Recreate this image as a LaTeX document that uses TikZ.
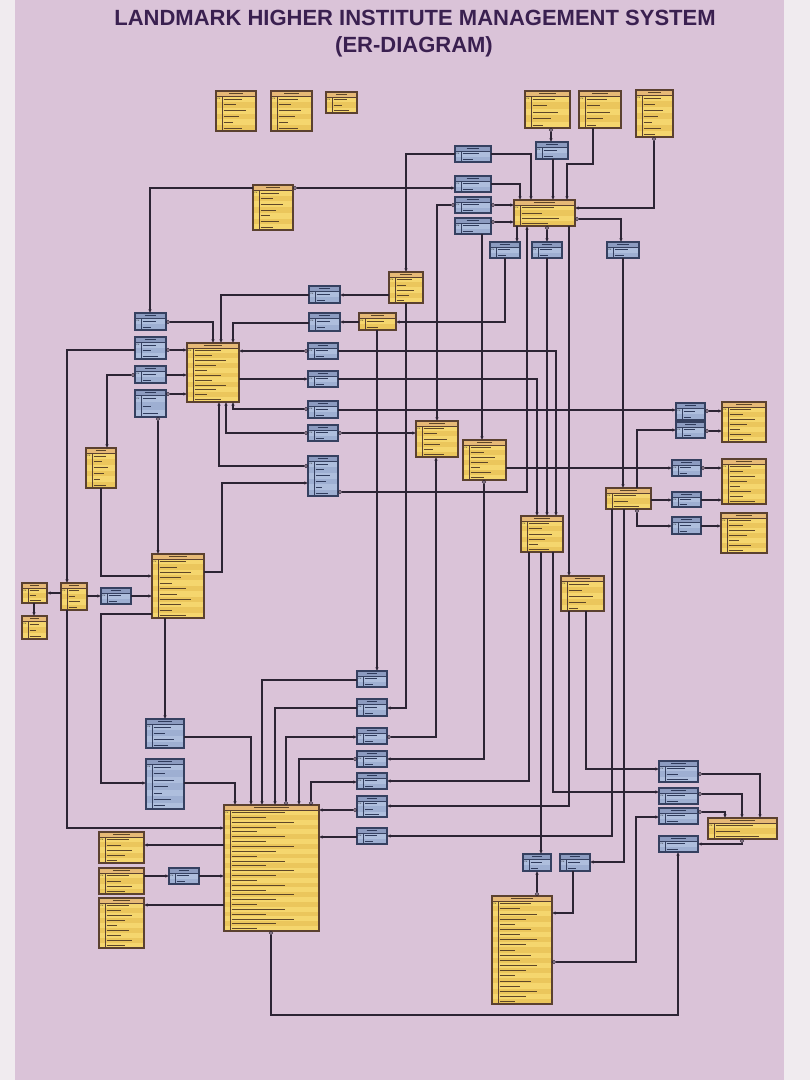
\documentclass[tikz,border=0pt]{standalone}
\usepackage{fontspec}
\setmainfont{Liberation Sans}
\usetikzlibrary{arrows.meta,calc}
\definecolor{poster}{HTML}{DAC3D8}
\definecolor{outer}{HTML}{F0EBEF}
\definecolor{ttl}{HTML}{3A2050}
\definecolor{yfill}{HTML}{F5D66E}
\definecolor{ystripe}{HTML}{EBC65C}
\definecolor{yhead}{HTML}{E6B976}
\definecolor{yborder}{HTML}{5B4130}
\definecolor{ytext}{HTML}{5E4628}
\definecolor{bfill}{HTML}{AEBEDD}
\definecolor{bstripe}{HTML}{9EAFD2}
\definecolor{bhead}{HTML}{8C9BC0}
\definecolor{bborder}{HTML}{354060}
\definecolor{btext}{HTML}{2F3B5C}
\definecolor{lc}{HTML}{2C2434}
\tikzset{
 ybody/.style={draw=yborder, fill=yfill, line width=1.1pt, inner sep=0pt, outer sep=0pt},
 bbody/.style={draw=bborder, fill=bfill, line width=1.1pt, inner sep=0pt, outer sep=0pt},
 yhd/.style={fill=yhead}, bhd/.style={fill=bhead},
 ystr/.style={fill=ystripe}, bstr/.style={fill=bstripe},
 ytx/.style={draw=ytext, line width=0.6pt}, btx/.style={draw=btext, line width=0.6pt},
 ysep/.style={draw=yborder, line width=0.45pt}, bsep/.style={draw=bborder, line width=0.45pt},
 pkl/.style={font=\fontsize{2}{2}\selectfont, inner sep=0pt},
 cn/.style={draw=lc, line width=1.1pt},
 ar/.style={cn, -{Latex[length=3.6pt,width=3.4pt]}},
 oar/.style={cn, {Circle[open,length=4pt,width=4pt,line width=0.8pt]}-{Latex[length=3.6pt,width=3.4pt]}},
 titlefont/.style={font=\fontsize{22}{26}\selectfont\bfseries, text=ttl, inner sep=0pt}
}
\newcommand{\tbl}[7]{%
 \pgfmathsetmacro{\tbW}{#5-#3}%
 \pgfmathsetmacro{\tbH}{#6-#4}%
 \pgfmathsetmacro{\tbR}{(#6-#4-5)/#7}%
 \node[#1body, minimum width=\tbW pt, minimum height=\tbH pt, anchor=north west] (#2) at (#3,#4) {};
 \fill[#1hd] (#3,#4) rectangle (#5,#4+5);
 \foreach \i in {1,...,#7}{%
   \pgfmathsetmacro{\tbY}{#4+5+(\i-1)*\tbR}%
   \ifodd\i\else \fill[#1str] (#3,\tbY) rectangle (#5,\tbY+\tbR);\fi
   \pgfmathsetmacro{\tbL}{(\tbW-10)*(0.3+0.11*mod(\i*3,5))}%
   \draw[#1tx] (#3+7.5,\tbY+\tbR/2) -- ++(\tbL,0);
 }
 \draw[#1sep] (#3+6,#4+5) -- (#3+6,#6);
 \draw[#1tx,line width=0.7pt] (#3+\tbW*0.32,#4+2.5) -- (#3+\tbW*0.68,#4+2.5);
 \node[pkl] at (#3+3,#4+5+\tbR/2) {PK};
 \draw[#1sep] (#3,#4+5) -- (#5,#4+5);
 \draw[#1border, line width=1.1pt] (#3,#4) rectangle (#5,#6);
}
\begin{document}
\begin{tikzpicture}[x=1pt,y=-1pt]
\useasboundingbox (0,0) rectangle (810,1080);
\fill[outer] (0,0) rectangle (810,1080);
\fill[poster] (15,0) rectangle (784,1080);

\node[titlefont] (title1) at (415,18) {LANDMARK HIGHER INSTITUTE MANAGEMENT SYSTEM};
\node[titlefont] (title2) at (414,47) {(ER-DIAGRAM)};

% yellow tables
\tbl{y}{t1}{216}{91}{256}{131}{6}
\tbl{y}{t2}{271}{91}{312}{131}{6}
\tbl{y}{t3}{326}{92}{357}{113}{3}
\tbl{y}{sal}{253}{185}{293}{230}{7}
\tbl{y}{sch}{525}{91}{570}{128}{5}
\tbl{y}{tmid}{579}{91}{621}{128}{5}
\tbl{y}{trt}{636}{90}{673}{137}{7}
\tbl{y}{mgmt}{514}{200}{575}{226}{4}
\tbl{y}{bld}{389}{272}{423}{303}{5}
\tbl{y}{ysm}{359}{313}{396}{330}{2}
\tbl{y}{lect}{187}{343}{239}{402}{11}
\tbl{y}{clsr}{416}{421}{458}{457}{6}
\tbl{y}{bld2}{463}{440}{506}{480}{7}
\tbl{y}{ylr}{521}{516}{563}{552}{6}
\tbl{y}{ymr}{561}{576}{604}{611}{5}
\tbl{y}{docs}{606}{488}{651}{509}{3}
\tbl{y}{yr1}{722}{402}{766}{442}{7}
\tbl{y}{yr2}{722}{459}{766}{504}{8}
\tbl{y}{proj}{721}{513}{767}{553}{7}
\tbl{y}{tt}{86}{448}{116}{488}{6}
\tbl{y}{crs}{152}{554}{204}{618}{11}
\tbl{y}{l1}{22}{583}{47}{603}{3}
\tbl{y}{l2}{22}{616}{47}{639}{3}
\tbl{y}{ymid}{61}{583}{87}{610}{4}
\tbl{y}{stud}{224}{805}{319}{931}{25}
\tbl{y}{b1}{99}{832}{144}{863}{5}
\tbl{y}{b2}{99}{868}{144}{894}{4}
\tbl{y}{b3}{99}{898}{144}{948}{9}
\tbl{y}{app}{492}{896}{552}{1004}{20}
\tbl{y}{guard}{708}{818}{777}{839}{3}

% blue tables
\tbl{b}{bsch}{536}{142}{568}{159}{2}
\tbl{b}{bl1}{455}{146}{491}{162}{2}
\tbl{b}{bl2}{455}{176}{491}{192}{2}
\tbl{b}{bl3}{455}{197}{491}{213}{2}
\tbl{b}{bl4}{455}{218}{491}{234}{2}
\tbl{b}{bb1}{490}{242}{520}{258}{2}
\tbl{b}{bb2}{532}{242}{562}{258}{2}
\tbl{b}{bb3}{607}{242}{639}{258}{2}
\tbl{b}{loc}{309}{286}{340}{303}{2}
\tbl{b}{bloc2}{309}{313}{340}{331}{2}
\tbl{b}{ba}{135}{313}{166}{330}{2}
\tbl{b}{bB}{135}{337}{166}{359}{3}
\tbl{b}{bC}{135}{366}{166}{383}{2}
\tbl{b}{bD}{135}{390}{166}{417}{3}
\tbl{b}{R1}{308}{343}{338}{359}{2}
\tbl{b}{R2}{308}{371}{338}{387}{2}
\tbl{b}{R3}{308}{401}{338}{418}{2}
\tbl{b}{R4}{308}{425}{338}{441}{2}
\tbl{b}{R5}{308}{456}{338}{496}{6}
\tbl{b}{r1}{676}{403}{705}{420}{2}
\tbl{b}{r2}{676}{422}{705}{438}{2}
\tbl{b}{r3}{672}{460}{701}{476}{2}
\tbl{b}{r4}{672}{492}{701}{507}{2}
\tbl{b}{r5}{672}{517}{701}{534}{2}
\tbl{b}{bcrs}{101}{588}{131}{604}{2}
\tbl{b}{m1}{146}{719}{184}{748}{4}
\tbl{b}{m2}{146}{759}{184}{809}{7}
\tbl{b}{bsm}{169}{868}{199}{884}{2}
\tbl{b}{c1}{357}{671}{387}{687}{2}
\tbl{b}{c2}{357}{699}{387}{716}{2}
\tbl{b}{c3}{357}{728}{387}{744}{2}
\tbl{b}{c4}{357}{751}{387}{767}{2}
\tbl{b}{c5}{357}{773}{387}{789}{2}
\tbl{b}{c6}{357}{796}{387}{817}{3}
\tbl{b}{c7}{357}{828}{387}{844}{2}
\tbl{b}{bt1}{523}{854}{551}{871}{2}
\tbl{b}{bt2}{560}{854}{590}{871}{2}
\tbl{b}{g1}{659}{761}{698}{782}{3}
\tbl{b}{g2}{659}{788}{698}{804}{2}
\tbl{b}{g3}{659}{808}{698}{824}{2}
\tbl{b}{g4}{659}{836}{698}{852}{2}

% connectors
\draw[ar] (sal.west|-0,188) -| (150,0|-ba.north);
\draw[oar] (sal.east|-0,188) -- (bl2.west|-0,188);
\draw[ar] (bl1.west|-0,154) -| (406,0|-bld.north);
\draw[ar] (bl1.east|-0,154) -| (531,0|-mgmt.north);
\draw[ar] (bl2.east|-0,184) -| (520,0|-mgmt.north);
\draw[oar] (bl3.west|-0,205) -| (437,0|-clsr.north);
\draw[oar] (bl3.east|-0,205) -- (mgmt.west|-0,205);
\draw[oar] (bl4.east|-0,222) -- (mgmt.west|-0,222);
\draw[ar] (482,0|-bl4.south) -- (482,0|-bld2.north);
\draw[oar] (551,0|-sch.south) -- (551,0|-bsch.north);
\draw[ar] (553,0|-bsch.south) -- (553,0|-mgmt.north);
\draw[ar] (593,0|-tmid.south) |- (567,164) -- (567,0|-mgmt.north);
\draw[oar] (654,0|-trt.south) |- (mgmt.east|-0,208);
\draw[oar] (mgmt.east|-0,219) -| (621,0|-bb3.north);
\draw[ar] (517,0|-mgmt.south) -- (517,0|-bb1.north);
\draw[oar] (547,0|-mgmt.south) -- (547,0|-bb2.north);
\draw[ar] (505,0|-bb1.south) |- (ysm.east|-0,322);
\draw[ar] (bld.west|-0,295) -- (loc.east|-0,295);
\draw[ar] (loc.west|-0,295) -| (221,0|-lect.north);
\draw[ar] (bloc2.west|-0,323) -| (233,0|-lect.north);
\draw[ar] (ysm.west|-0,322) -- (bloc2.east|-0,322);
\draw[ar] (377,0|-ysm.south) -- (377,0|-c1.north);
\draw[ar] (406,0|-bld.south) |- (c2.east|-0,708);
\draw[oar] (ba.east|-0,322) -| (213,0|-lect.north);
\draw[ar] (bB.west|-0,350) -| (67,0|-ymid.north);
\draw[oar] (bB.east|-0,350) -- (lect.west|-0,350);
\draw[oar] (bC.west|-0,375) -| (107,0|-tt.north);
\draw[ar] (bC.east|-0,375) -- (lect.west|-0,375);
\draw[oar] (bD.east|-0,394) -- (lect.west|-0,394);
\draw[oar] (158,0|-bD.south) -- (158,0|-crs.north);
\draw[oar] (R1.west|-0,351) -- (lect.east|-0,351);
\draw[ar] (R1.east|-0,351) -| (556,0|-ylr.north);
\draw[ar] (lect.east|-0,379) -- (R2.west|-0,379);
\draw[ar] (R2.east|-0,379) -| (537,0|-ylr.north);
\draw[oar] (R3.west|-0,409) -| (233,0|-lect.south);
\draw[ar] (R3.east|-0,410) -- (r1.west|-0,410);
\draw[oar] (R4.west|-0,433) -| (226,0|-lect.south);
\draw[oar] (R4.east|-0,433) -- (clsr.west|-0,433);
\draw[oar] (R5.west|-0,466) -| (219,0|-lect.south);
\draw[oar] (R5.east|-0,492) -| (527,0|-mgmt.south);
\draw[ar] (crs.east|-0,572) -| (222,483) -- (R5.west|-0,483);
\draw[oar] (c3.east|-0,737) -| (436,0|-clsr.south);
\draw[oar] (484,0|-bld2.south) |- (c4.east|-0,759);
\draw[ar] (bld2.east|-0,468) -- (r3.west|-0,468);
\draw[ar] (547,0|-bb2.south) -- (547,0|-ylr.north);
\draw[ar] (529,0|-ylr.south) |- (c5.east|-0,781);
\draw[ar] (541,0|-ylr.south) -- (541,0|-bt1.north);
\draw[ar] (553,0|-ylr.south) |- (g2.west|-0,792);
\draw[ar] (569,0|-mgmt.south) -- (569,0|-ymr.north);
\draw[ar] (569,0|-ymr.south) |- (c6.east|-0,806);
\draw[ar] (586,0|-ymr.south) |- (g1.west|-0,769);
\draw[ar] (623,0|-bb3.south) -- (623,0|-docs.north);
\draw[ar] (612,0|-docs.south) |- (c7.east|-0,836);
\draw[ar] (624,0|-docs.south) |- (bt2.east|-0,862);
\draw[ar] (637,0|-docs.north) |- (r2.west|-0,430);
\draw[ar] (docs.east|-0,500) -- (r4.west|-0,500);
\draw[ar] (r4.east|-0,500) -- (yr2.west|-0,500);
\draw[oar] (637,0|-docs.south) |- (r5.west|-0,526);
\draw[ar] (r5.east|-0,526) -- (proj.west|-0,526);
\draw[oar] (r1.east|-0,411) -- (yr1.west|-0,411);
\draw[oar] (r2.east|-0,431) -- (yr1.west|-0,431);
\draw[oar] (r3.east|-0,468) -- (yr2.west|-0,468);
\draw[ar] (101,0|-tt.south) |- (crs.west|-0,576);
\draw[ar] (ymid.west|-0,593) -- (l1.east|-0,593);
\draw[ar] (34,0|-l1.south) -- (34,0|-l2.north);
\draw[ar] (ymid.east|-0,596) -- (bcrs.west|-0,596);
\draw[ar] (bcrs.east|-0,596) -- (crs.west|-0,596);
\draw[ar] (67,0|-ymid.south) |- (stud.west|-0,828);
\draw[ar] (crs.west|-0,614) -| (101,783) -- (m2.west|-0,783);
\draw[ar] (165,0|-crs.south) -- (165,0|-m1.north);
\draw[ar] (m1.east|-0,737) -| (251,0|-stud.north);
\draw[ar] (m2.east|-0,783) -| (235,0|-stud.north);
\draw[ar] (c1.west|-0,680) -| (262,0|-stud.north);
\draw[ar] (c2.west|-0,708) -| (275,0|-stud.north);
\draw[oar] (286,0|-stud.north) |- (c3.west|-0,737);
\draw[oar] (c4.west|-0,759) -| (299,0|-stud.north);
\draw[oar] (311,0|-stud.north) |- (c5.west|-0,782);
\draw[oar] (c6.west|-0,810) -- (stud.east|-0,810);
\draw[ar] (c7.west|-0,837) -- (stud.east|-0,837);
\draw[ar] (stud.west|-0,845) -- (b1.east|-0,845);
\draw[ar] (b2.east|-0,876) -- (bsm.west|-0,876);
\draw[ar] (bsm.east|-0,876) -- (stud.west|-0,876);
\draw[ar] (stud.west|-0,905) -- (b3.east|-0,905);
\draw[oar] (271,0|-stud.south) |- (678,1015) -- (678,0|-g4.south);
\draw[oar] (537,0|-app.north) -- (537,0|-bt1.south);
\draw[ar] (573,0|-bt2.south) |- (app.east|-0,913);
\draw[oar] (app.east|-0,962) -| (636,817) -- (g3.west|-0,817);
\draw[oar] (g1.east|-0,774) -| (760,0|-guard.north);
\draw[oar] (g2.east|-0,794) -| (742,0|-guard.north);
\draw[oar] (g3.east|-0,812) -| (725,0|-guard.north);
\draw[oar] (742,0|-guard.south) |- (g4.east|-0,844);
\end{tikzpicture}
\end{document}
